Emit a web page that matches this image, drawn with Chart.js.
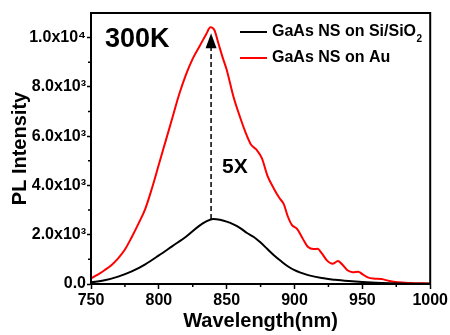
<!DOCTYPE html>
<html>
<head>
<meta charset="utf-8">
<script src="https://cdn.jsdelivr.net/npm/chart.js@4"></script>
<style>
  html, body { margin: 0; padding: 0; background: #fff; }
</style>
</head>
<body>
<canvas id="chart" width="450" height="335"></canvas>
<script>
// red: GaAs NS on Au
const wlAu = [750,755,760,765,770,775,780,785,790,795,800,805,810,815,820,825,830,835,838,841,844,847,850,855,860,865,868,872,876,880,885,889,892,895,898,902,906,910,914,917,920,924,928,932,935,939,943,947,950,954,958,964,970,976,985,1000];
const plAu = [230,380,560,760,1040,1400,1900,2450,3050,3900,4850,5800,6750,7700,8500,9150,9650,10150,10420,10300,9750,9200,8700,7600,6750,6000,5650,5450,5100,4400,3850,3480,3250,2750,2400,2230,1850,1500,1420,1430,1250,950,820,930,800,560,480,500,400,270,220,200,120,70,40,20];

// black: GaAs NS on Si/SiO2
const wlSi = [750,760,770,780,790,800,810,820,830,835,840,845,850,855,860,865,870,875,880,885,890,895,900,905,910,920,930,940,950,960,970,985,1000];
const plSi = [60,150,300,510,800,1160,1540,1920,2370,2540,2640,2610,2530,2420,2270,2070,1910,1680,1420,1160,930,720,560,450,360,240,170,120,80,50,30,15,10];

const seriesNames = ['GaAs NS on Si/SiO\u2082', 'GaAs NS on Au'];
const seriesColors = ['#000000', '#ff0000'];

const xTicks = [750, 800, 850, 900, 950, 1000];
const yTicks = [0, 2000, 4000, 6000, 8000, 10000];
const yTickLabels = ['0.0', '2.0x10\u00b3', '4.0x10\u00b3', '6.0x10\u00b3', '8.0x10\u00b3', '1.0x10\u2074'];

// arrow from black peak to red peak
const arrowX = 838.5;
const arrowFrom = 2640;
const arrowTo = 10180;

const FONT = '"Liberation Sans", Arial, sans-serif';

const toPoints = (xs, ys) => xs.map((x, i) => ({ x: x, y: ys[i] }));

const extras = {
    id: 'extras',
    afterDatasetsDraw(chart) {
        const { ctx, chartArea: a, scales: { x, y } } = chart;
        ctx.save();

        // minor ticks
        ctx.strokeStyle = '#000';
        ctx.lineWidth = 1.5;
        ctx.beginPath();
        for (let v = 775; v < 1000; v += 50) {
            const px = x.getPixelForValue(v);
            ctx.moveTo(px, a.bottom); ctx.lineTo(px, a.bottom + 3);
        }
        for (let v = 1000; v < 11000; v += 2000) {
            const py = y.getPixelForValue(v);
            ctx.moveTo(a.left, py); ctx.lineTo(a.left - 3, py);
        }
        ctx.stroke();

        // frame
        ctx.lineWidth = 2;
        ctx.strokeRect(a.left, a.top, a.right - a.left, a.bottom - a.top);

        // dashed arrow
        const ax = x.getPixelForValue(arrowX);
        const y0 = y.getPixelForValue(arrowFrom);
        const y1 = y.getPixelForValue(arrowTo);
        ctx.lineWidth = 1.5;
        ctx.setLineDash([5, 3]);
        ctx.beginPath();
        ctx.moveTo(ax, y0); ctx.lineTo(ax, y1 + 12);
        ctx.stroke();
        ctx.setLineDash([]);
        ctx.fillStyle = '#000';
        ctx.beginPath();
        ctx.moveTo(ax, y1);
        ctx.lineTo(ax - 5.5, y1 + 15);
        ctx.lineTo(ax + 5.5, y1 + 15);
        ctx.closePath();
        ctx.fill();

        // texts
        ctx.textBaseline = 'alphabetic';
        ctx.textAlign = 'left';
        ctx.font = 'bold 27px ' + FONT;
        ctx.fillText('300K', a.left + 14, a.top + 34);
        ctx.font = 'bold 21px ' + FONT;
        ctx.fillText('5X', ax + 11, 173);

        // legend
        seriesNames.forEach((name, i) => {
            const ly = a.top + 19 + i * 26;
            ctx.strokeStyle = seriesColors[i];
            ctx.lineWidth = 2;
            ctx.beginPath();
            ctx.moveTo(a.left + 149, ly); ctx.lineTo(a.left + 176, ly);
            ctx.stroke();
            ctx.fillStyle = '#000';
            ctx.textBaseline = 'middle';
            let main = name, sub = '';
            if (name.endsWith('\u2082')) { main = name.slice(0, -1); sub = '2'; }
            ctx.font = 'bold 16px ' + FONT;
            ctx.fillText(main, a.left + 181, ly);
            if (sub) {
                const w = ctx.measureText(main).width;
                ctx.font = 'bold 10px ' + FONT;
                ctx.fillText(sub, a.left + 181 + w + 0.5, ly + 7);
            }
        });
        ctx.restore();
    }
};

new Chart(document.getElementById('chart'), {
    type: 'line',
    data: {
        datasets: [
            { label: seriesNames[0], data: toPoints(wlSi, plSi), borderColor: seriesColors[0], borderWidth: 2, pointRadius: 0, cubicInterpolationMode: 'monotone' },
            { label: seriesNames[1], data: toPoints(wlAu, plAu), borderColor: seriesColors[1], borderWidth: 2, pointRadius: 0, cubicInterpolationMode: 'monotone' }
        ]
    },
    options: {
        responsive: false,
        animation: false,
        layout: { padding: { left: 0, right: 18, top: 13, bottom: 0 } },
        plugins: { legend: { display: false }, tooltip: { enabled: false } },
        scales: {
            x: {
                type: 'linear', min: 750, max: 1000,
                afterBuildTicks: s => { s.ticks = xTicks.map(v => ({ value: v })); },
                afterFit: s => { s.height = 51; },
                ticks: { color: '#000', font: { family: FONT, size: 16, weight: 'bold' }, padding: 2, maxRotation: 0,
                    callback: v => String(v) },
                grid: { display: true, drawOnChartArea: false, tickLength: 5, tickWidth: 1.5, tickColor: '#000' },
                border: { display: true, color: '#000', width: 2 },
                title: { display: true, text: 'Wavelength(nm)', color: '#000', font: { family: FONT, size: 20, weight: 'bold' }, padding: { top: 0, bottom: 2 } }
            },
            y: {
                type: 'linear', min: 0, max: 11000,
                afterBuildTicks: s => { s.ticks = yTicks.map(v => ({ value: v })); },
                afterFit: s => { s.width = 91; },
                ticks: { color: '#000', font: { family: FONT, size: 16, weight: 'bold' }, padding: 1,
                    callback: v => yTickLabels[yTicks.indexOf(v)] },
                grid: { display: true, drawOnChartArea: false, tickLength: 4, tickWidth: 1.5, tickColor: '#000' },
                border: { display: true, color: '#000', width: 2 },
                title: { display: true, text: 'PL Intensity', color: '#000', font: { family: FONT, size: 20, weight: 'bold' }, padding: { top: 8, bottom: 0 } }
            }
        }
    },
    plugins: [extras]
});
</script>
</body>
</html>
